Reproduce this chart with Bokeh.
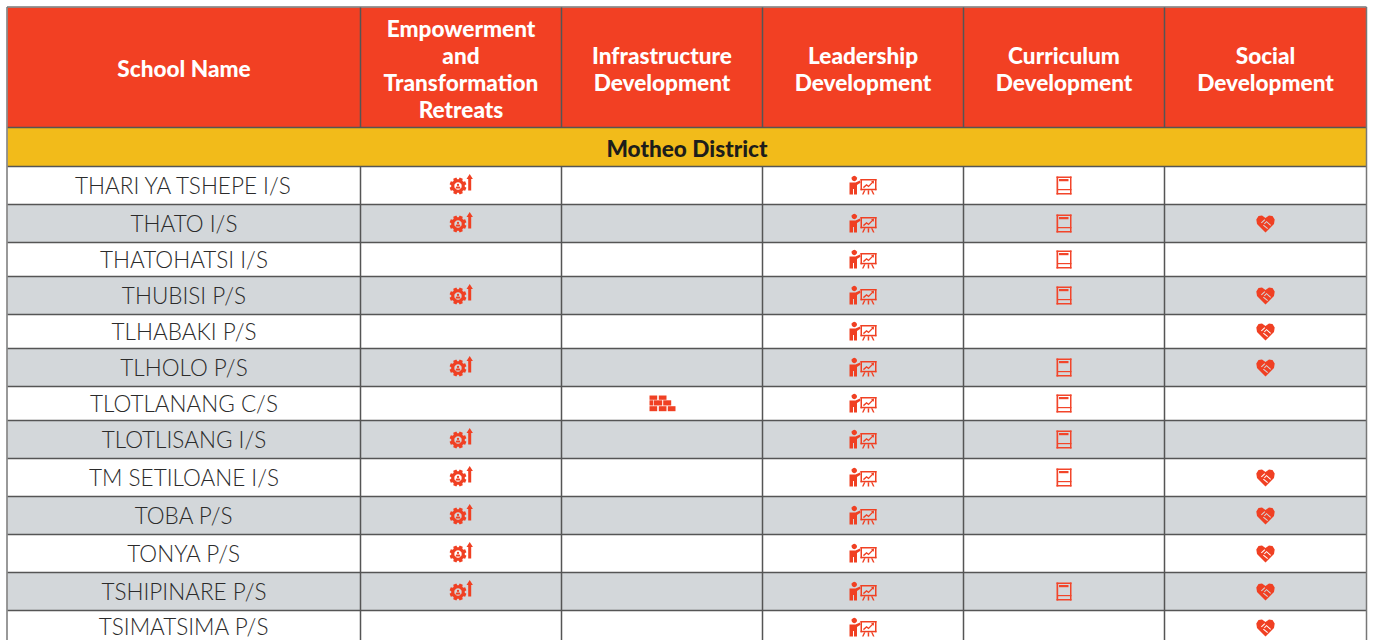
import math
from bokeh.plotting import figure
from bokeh.models import Range1d
from bokeh.core.properties import value
from bokeh.embed import file_html
from bokeh.resources import INLINE

# ---------- data ----------
headers = ["School Name", "Empowerment\nand\nTransformation\nRetreats",
           "Infrastructure\nDevelopment", "Leadership\nDevelopment",
           "Curriculum\nDevelopment", "Social\nDevelopment"]
district = "Motheo District"
schools = ["THARI YA TSHEPE I/S", "THATO I/S", "THATOHATSI I/S", "THUBISI P/S",
           "TLHABAKI P/S", "TLHOLO P/S", "TLOTLANANG C/S", "TLOTLISANG I/S",
           "TM SETILOANE I/S", "TOBA P/S", "TONYA P/S", "TSHIPINARE P/S",
           "TSIMATSIMA P/S"]
empowerment    = [1, 1, 0, 1, 0, 1, 0, 1, 1, 1, 1, 1, 0]
infrastructure = [0, 0, 0, 0, 0, 0, 1, 0, 0, 0, 0, 0, 0]
leadership     = [1, 1, 1, 1, 1, 1, 1, 1, 1, 1, 1, 1, 1]
curriculum     = [1, 1, 1, 1, 0, 1, 1, 1, 1, 0, 0, 1, 0]
social         = [0, 1, 0, 1, 1, 1, 0, 0, 1, 1, 1, 1, 1]

# ---------- layout and style ----------
W, H = 1373, 640
col_edges = [7, 360, 561, 762, 963, 1164, 1366]
head_top, head_bot, band_bot = 7, 127, 166
row_edges = [166, 204, 242, 276, 314, 348, 386, 420, 458, 496, 534, 572, 610, 644]
RED, ICON, YEL, GREY, LINE, TXT = "#f24023", "#f04023", "#f2bb1a", "#d3d7da", "#555555", "#2b2b2b"
HEAD_FONT, BODY_FONT = "Lato Black", "Lato Light"
HEAD_PX, BODY_PX, LINE_H = "22.6px", "22.5px", 27

p = figure(width=W, height=H, output_backend="svg", toolbar_location=None,
           x_range=Range1d(0, W), y_range=Range1d(H, 0), min_border=0)
p.axis.visible = False
p.grid.visible = False
p.outline_line_color = None
p.background_fill_color = "white"

left, right = col_edges[0], col_edges[-1]
col_mid = [(a + b) / 2 for a, b in zip(col_edges, col_edges[1:])]
row_mid = [(a + b) / 2 for a, b in zip(row_edges, row_edges[1:])]
row_col = ["white" if i % 2 == 0 else GREY for i in range(len(schools))]

# fills
p.quad(left=left, right=right, top=head_top, bottom=head_bot, fill_color=RED, line_color=None)
p.quad(left=left, right=right, top=head_bot, bottom=band_bot, fill_color=YEL, line_color=None)
p.quad(left=[left] * len(schools), right=[right] * len(schools),
       top=row_edges[:-1], bottom=row_edges[1:], fill_color=row_col, line_color=None)

# rules
hy = [head_bot, band_bot] + row_edges[1:-1]
p.segment(x0=[left] * len(hy), x1=[right] * len(hy), y0=hy, y1=hy, line_color=LINE, line_width=1.5)
p.segment(x0=[left - .5, left - .5, right], x1=[right, left - .5, right],
          y0=[head_top - .5, head_top - .5, head_top - .5], y1=[head_top - .5, H, H],
          line_color="#777777", line_width=1.5)
for x in col_edges[1:-1]:
    p.segment(x0=[x, x], x1=[x, x], y0=[head_top, band_bot], y1=[head_bot, H],
              line_color=LINE, line_width=1.5)

# header text
for cx, h in zip(col_mid, headers):
    lines = h.split("\n")
    cy = (head_top + head_bot) / 2 + 1
    ys = [cy + (i - (len(lines) - 1) / 2) * LINE_H for i in range(len(lines))]
    p.text(x=[cx] * len(lines), y=ys, text=lines, text_color="white", text_align="center",
           text_baseline="middle", text_font=value(HEAD_FONT), text_font_size=HEAD_PX)
p.text(x=[(left + right) / 2], y=[(head_bot + band_bot) / 2 + 1], text=[district], text_color="#1d1d1b",
       text_align="center", text_baseline="middle", text_font=value(HEAD_FONT),
       text_font_size=HEAD_PX)

# school names
p.text(x=[col_mid[0]] * len(schools), y=row_mid[:-1] + [row_mid[-1] - 1], text=schools, text_color=TXT,
       text_align="center", text_baseline="middle", text_font=value(BODY_FONT),
       text_font_size=BODY_PX)

# ---------- icons ----------
def poly(cx, cy, pts):
    return [cx + a for a, _ in pts], [cy + b for _, b in pts]

def rect(x0, y0, x1, y1):
    return [(x0, y0), (x1, y0), (x1, y1), (x0, y1)]

def draw(polys, color=ICON):
    if polys:
        p.patches(xs=[q[0] for q in polys], ys=[q[1] for q in polys], fill_color=color, line_color=None)

def gear_icon(flags):
    gx, gy = -3, 0.5
    teeth = []
    for t in range(8):
        for da, r in [(-17, 6.8), (-11, 8.6), (11, 8.6), (17, 6.8)]:
            a = math.radians(t * 45 + 22.5 + da)
            teeth.append((gx + r * math.cos(a), gy + r * math.sin(a)))
    arrow = [(7.2, 5), (7.2, -6.5), (5.5, -6.5), (8.7, -11.5), (11.9, -6.5), (10.2, -6.5), (10.2, 5)]
    hole = [(gx + 3.7 * math.cos(a * math.pi / 8), gy + 3.7 * math.sin(a * math.pi / 8)) for a in range(16)]
    head = [(gx + 1.2 * math.cos(a * math.pi / 4), gy - 1.1 + 1.2 * math.sin(a * math.pi / 4)) for a in range(8)]
    body = [(gx - 2.6, gy + 2.6), (gx - 1.6, gy + 0.6), (gx + 1.6, gy + 0.6), (gx + 2.6, gy + 2.6)]
    for i, f in enumerate(flags):
        if f:
            cx, cy = col_mid[1], row_mid[i]
            draw([poly(cx, cy, teeth), poly(cx, cy, arrow)])
            draw([poly(cx, cy, hole)], row_col[i])
            draw([poly(cx, cy, head), poly(cx, cy, body)])

def brick_icon(flags):
    bricks = [rect(-12.5, -8, -4.8, -3.7), rect(-3.2, -8, 4.5, -3.7),
              rect(-12.5, -3.2, -8.8, 2), rect(-8.2, -3.2, 0.2, 2), rect(1.2, -3.2, 9.2, 2),
              rect(-12.5, 2.7, -4.8, 7.7), rect(-3.2, 2.7, 4.5, 7.7), rect(5.8, 2.7, 13.5, 7.7)]
    for i, f in enumerate(flags):
        if f:
            draw([poly(col_mid[2], row_mid[i], b) for b in bricks])

def leader_icon(flags):
    head = [(-8.7 + 2.7 * math.cos(a * math.pi / 6), -7 + 2.7 * math.sin(a * math.pi / 6)) for a in range(12)]
    body = [(-13.5, -3), (-7.5, -3), (-3, -5), (-2.5, -2.8), (-6, -0.5), (-6, 9), (-9, 9), (-9, 3.5), (-10, 3.5), (-10, 9), (-13.5, 9)]
    board = [rect(-2.5, -6.5, 13.5, -5), rect(-2.5, 3.3, 13.5, 4.8), rect(-2.5, -6.5, -1, 4.8), rect(12, -6.5, 13.5, 4.8)]
    legs = [[(1, 4.8), (2.5, 4.8), (0.5, 9), (-1, 9)], [(8, 4.8), (9.5, 4.8), (11.5, 9), (10, 9)], rect(4.7, 4.8, 6.2, 9)]
    trend = [(0, 1.5), (3.5, -1.5), (5.5, 0), (9, -3.5), (7.8, -4), (11, -5), (10.8, -1.8), (9.8, -2.6), (5.6, 1.8), (3.6, 0.2), (0.8, 2.8)]
    for i, f in enumerate(flags):
        if f:
            cx, cy = col_mid[3], row_mid[i]
            draw([poly(cx, cy, q) for q in [head, body, trend] + board + legs])

def book_icon(flags):
    parts = [rect(-7.5, -9, 7.5, -7.5), rect(-7.5, 7.5, 7.5, 9), rect(-7.5, -9, -5.8, 9), rect(6, -9, 7.5, 9),
             rect(-5, -6.5, 4.5, -4.3), rect(-6, 3.5, 7.5, 4.7)]
    for i, f in enumerate(flags):
        if f:
            draw([poly(col_mid[4], row_mid[i], q) for q in parts], "#f2452a")

def heart_icon(flags):
    heart = [(0, 9), (-8.5, 0.5), (-9.2, -4), (-7, -7.5), (-3.5, -8), (0, -5.5), (3.5, -8), (7, -7.5), (9.2, -4), (8.5, 0.5)]
    lines = [[(-4.5, -1), (-1, -4.2), (-0.3, -3.5), (-3.8, -0.3)], [(-1.5, 0), (1, -2.5), (5.5, 1.5), (4.8, 2.2), (1, -1.2), (-0.8, 0.7)],
             [(-2.5, 2), (-1.8, 1.3), (2.5, 4.8), (1.8, 5.5)]]
    for i, f in enumerate(flags):
        if f:
            cx, cy = col_mid[5], row_mid[i]
            draw([poly(cx, cy, heart)])
            draw([poly(cx, cy, q) for q in lines], row_col[i])

gear_icon(empowerment)
brick_icon(infrastructure)
leader_icon(leadership)
book_icon(curriculum)
heart_icon(social)

open("out.html", "w").write(file_html(p, INLINE))
